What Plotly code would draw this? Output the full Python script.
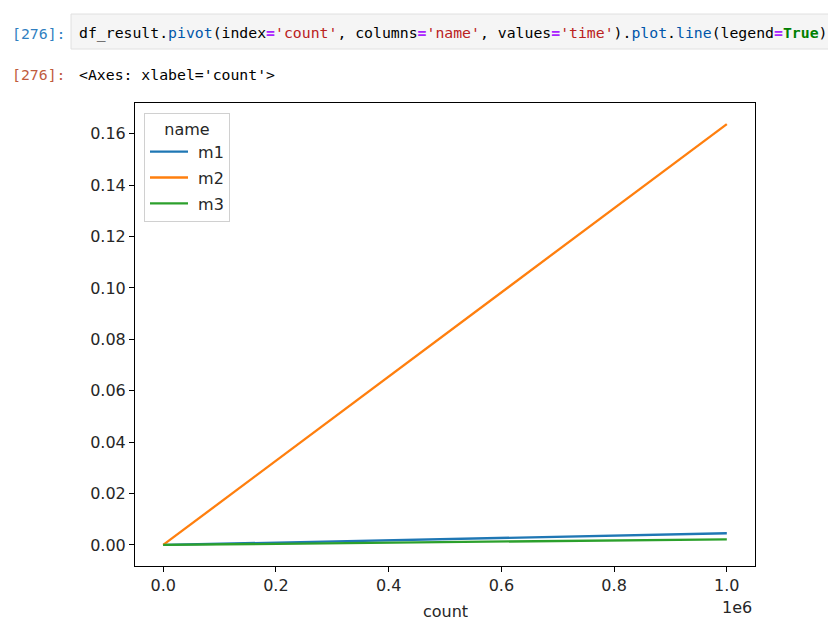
import plotly.graph_objects as go

# ---- data ----
counts = [0, 1000000]
series_names = ["m1", "m2", "m3"]
m1_time = [0.0, 0.00455]
m2_time = [0.0, 0.1638]
m3_time = [0.0, 0.0022]
x_tick_vals = [0, 200000, 400000, 600000, 800000, 1000000]
x_tick_text = ["0.0", "0.2", "0.4", "0.6", "0.8", "1.0"]
y_tick_vals = [0.00, 0.02, 0.04, 0.06, 0.08, 0.10, 0.12, 0.14, 0.16]
y_tick_text = ["0.00", "0.02", "0.04", "0.06", "0.08", "0.10", "0.12", "0.14", "0.16"]
colors = ["#1f77b4", "#ff7f0e", "#2ca02c"]

# page body has an 8px margin; figure is placed at (8, 8)
OFF = 8
W, H = 836 - OFF, 627 - OFF
def px(x):
    return (x - OFF) / W
def py(y):
    return (H - (y - OFF)) / H

FONT = "DejaVu Sans"
MONO = "DejaVu Sans Mono"
TXT = "#262626"

fig = go.Figure()
for name, vals, c in zip(series_names, [m1_time, m2_time, m3_time], colors):
    fig.add_trace(go.Scatter(x=counts, y=vals, mode="lines", name="&nbsp;" + name,
                             legendgroup=name,
                             line=dict(color=c, width=2.3)))

fig.update_layout(
    width=W, height=H,
    margin=dict(l=0, r=0, t=0, b=0),
    paper_bgcolor="white", plot_bgcolor="white",
    font=dict(family=FONT, size=16, color=TXT),
    showlegend=True,
    legend=dict(
        x=px(144), y=py(113), xanchor="left", yanchor="top",
        bgcolor="white", bordercolor="#d0d0d0", borderwidth=1,
        font=dict(family=FONT, size=16, color=TXT),
        title=dict(text="name", side="top center", font=dict(family=FONT, size=16)),
        itemwidth=38,
        tracegroupgap=2,
    ),
    xaxis=dict(
        domain=[px(135), px(755)],
        range=[-50000, 1050000],
        tickvals=x_tick_vals, ticktext=x_tick_text,
        ticks="outside", ticklen=5, tickcolor="black", tickwidth=1,
        showline=True, linecolor="black", linewidth=1, mirror=True,
        showgrid=False, zeroline=False,
        tickfont=dict(family=FONT, size=16, color=TXT),
    ),
    yaxis=dict(
        domain=[py(566), py(103)],
        range=[-0.00819, 0.17199],
        tickvals=y_tick_vals, ticktext=y_tick_text,
        ticks="outside", ticklen=5, tickcolor="black", tickwidth=1,
        showline=True, linecolor="black", linewidth=1, mirror=True,
        showgrid=False, zeroline=False,
        tickfont=dict(family=FONT, size=16, color=TXT),
    ),
)

# x axis label and offset text
fig.add_annotation(x=px(445), y=py(611), xref="paper", yref="paper",
                   text="count", showarrow=False,
                   font=dict(family=FONT, size=16, color=TXT),
                   xanchor="center", yanchor="middle")
fig.add_annotation(x=px(754), y=py(607), xref="paper", yref="paper",
                   text="1e6", showarrow=False,
                   font=dict(family=FONT, size=16, color=TXT),
                   xanchor="right", yanchor="middle")

# notebook cell chrome
fig.add_shape(type="rect", xref="paper", yref="paper",
              x0=px(71), x1=px(845), y0=py(49), y1=py(14),
              fillcolor="#f5f5f5", line=dict(color="#e0e0e0", width=1), layer="below")

fig.add_annotation(x=px(10), y=py(33), xref="paper", yref="paper",
                   text="[276]:", showarrow=False, xanchor="left", yanchor="middle",
                   font=dict(family=MONO, size=14.8, color="#307fc1"))
fig.add_annotation(x=px(10), y=py(75), xref="paper", yref="paper",
                   text="[276]:", showarrow=False, xanchor="left", yanchor="middle",
                   font=dict(family=MONO, size=14.8, color="#bf5b3d"))

BLUE = "#0055aa"
PURP = "#aa22ff"
RED = "#ba2121"
GRN = "#008000"
def sp(t, c, b=False):
    s = f'<span style="color:{c}">{t}</span>'
    return f"<b>{s}</b>" if b else s

code = ("df_result." + sp("pivot", BLUE) + "(index" + sp("=", PURP, True) + sp("'count'", RED)
        + ", columns" + sp("=", PURP, True) + sp("'name'", RED)
        + ", values" + sp("=", PURP, True) + sp("'time'", RED)
        + ")." + sp("plot", BLUE) + "." + sp("line", BLUE) + "(legend"
        + sp("=", PURP, True) + sp("True", GRN, True) + ")")
fig.add_annotation(x=px(77), y=py(33), xref="paper", yref="paper",
                   text=code, showarrow=False, xanchor="left", yanchor="middle",
                   font=dict(family=MONO, size=14.8, color="#000000"))
fig.add_annotation(x=px(77), y=py(75), xref="paper", yref="paper",
                   text="&lt;Axes: xlabel='count'&gt;", showarrow=False,
                   xanchor="left", yanchor="middle",
                   font=dict(family=MONO, size=14.8, color="#000000"))

fig.write_html("out.html")
